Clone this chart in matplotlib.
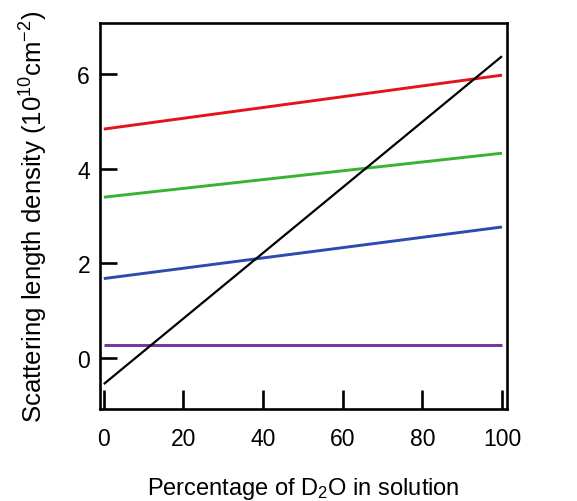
import matplotlib
matplotlib.use('Agg')
import matplotlib.pyplot as plt

plt.rcParams['font.family'] = ['Liberation Sans', 'DejaVu Sans']
plt.rcParams['mathtext.default'] = 'regular'

# end points of each line (x = % D2O)
d2o = [0, 100]
red = [4.84, 5.98]
green = [3.40, 4.33]
blue = [1.68, 2.77]
purple = [0.28, 0.28]
water = [-0.55, 6.38]

fig = plt.figure(figsize=(5.77, 5.02), dpi=100)
ax = fig.add_axes([0.173, 0.183, 0.706, 0.769])

ax.plot(d2o, red, color='#e3141b', lw=2.1, solid_capstyle='butt')
ax.plot(d2o, green, color='#34b334', lw=2.1, solid_capstyle='butt')
ax.plot(d2o, blue, color='#2b4bb0', lw=2.1, solid_capstyle='butt')
ax.plot(d2o, purple, color='#7333a3', lw=2.1, solid_capstyle='butt')
ax.plot(d2o, water, color='black', lw=1.6, solid_capstyle='butt')

ax.set_xlim(-1.0, 101.3)
ax.set_ylim(-1.08, 7.08)
ax.set_xticks([0, 20, 40, 60, 80, 100])
ax.set_yticks([0, 2, 4, 6])

for s in ax.spines.values():
    s.set_linewidth(1.9)
ax.tick_params(axis='x', direction='in', length=14, width=1.9, pad=13, labelsize=16.5)
ax.tick_params(axis='y', direction='in', length=12.5, width=1.9, pad=7, labelsize=16.5)

ax.set_xlabel('Percentage of D$_2$O in solution', fontsize=17, labelpad=18)
ax.set_ylabel('Scattering length density (10$^{10}$cm$^{-2}$)', fontsize=18.5, labelpad=20)

fig.savefig('out.png', dpi=100)
